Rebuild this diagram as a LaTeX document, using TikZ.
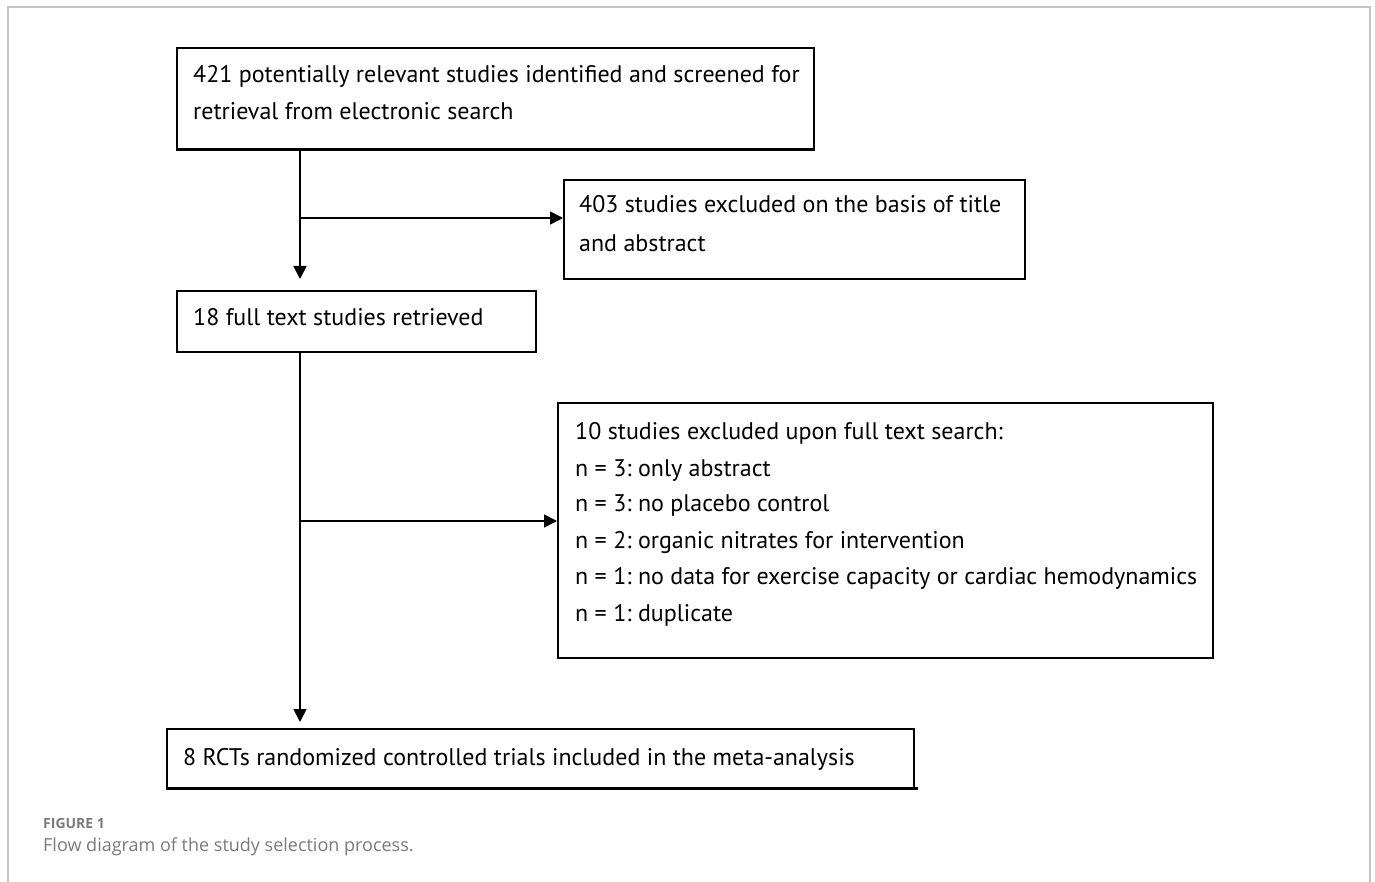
\documentclass[tikz,border=0pt]{standalone}
\usepackage{fontspec}
\setmainfont{PT Sans}
\newfontfamily\capfont{Open Sans}
\usetikzlibrary{arrows.meta}
\definecolor{framegray}{HTML}{C4C4C4}
\definecolor{capgray}{HTML}{7A7A7A}
\tikzset{
  box/.style={draw=black, line width=1.6pt, rectangle, anchor=north west, inner sep=0pt},
  boxtext/.style={anchor=base west, align=left, inner sep=0pt,
    font=\fontsize{24}{37}\selectfont},
  flow/.style={line width=1.6pt, -{Triangle[length=13pt,width=13pt]}},
  trunk/.style={line width=1.6pt},
}
\begin{document}
\frenchspacing
\begin{tikzpicture}[x=1pt,y=-1pt]
\useasboundingbox (0,0) rectangle (1375,882);
\draw[framegray, line width=2pt] (8,882) -- (8,7) -- (1370,7) -- (1370,882);

\node[box, minimum width=637pt, minimum height=101pt] (b1) at (176,47) {};
\node[box, minimum width=461pt, minimum height=99pt] (b2) at (563,179) {};
\node[box, minimum width=359pt, minimum height=61pt] (b3) at (176,290) {};
\node[box, minimum width=655pt, minimum height=255pt] (b4) at (557,402) {};
\node[box, minimum width=747pt, minimum height=59pt] (b5) at (166,728) {};

\node[boxtext] (t1a) at (193,83) {421 potentially relevant studies identified and screened for};
\node[boxtext] (t1b) at (193,120) {retrieval from electronic search};
\node[boxtext] (t2a) at (579,213) {403 studies excluded on the basis of title};
\node[boxtext] (t2b) at (579,252) {and abstract};
\node[boxtext] (t3) at (193,326) {18 full text studies retrieved};
\node[boxtext] (t4a) at (575,439) {10 studies excluded upon full text search:};
\node[boxtext] (t4b) at (575,476) {n = 3: only abstract};
\node[boxtext] (t4c) at (575,511) {n = 3: no placebo control};
\node[boxtext] (t4d) at (575,548) {n = 2: organic nitrates for intervention};
\node[boxtext] (t4e) at (575,584) {n = 1: no data for exercise capacity or cardiac hemodynamics};
\node[boxtext] (t4f) at (575,621) {n = 1: duplicate};
\node[boxtext] (t5) at (183,765) {8 RCTs randomized controlled trials included in the meta-analysis};

% thicker bottom edges
\draw[line width=3pt] (b1.south west) -- (b1.south east);
\draw[line width=3pt] (b5.south west) -- ([xshift=3pt]b5.south east);

\coordinate (j1) at (300,218);
\coordinate (j2) at (300,521);
\coordinate (e1) at (300,279);
\coordinate (e2) at (300,722);

\draw[trunk] (b1.south -| j1) -- (j1);
\draw[flow] (b1.south -| j1) -- (e1);
\draw[flow] (j1) -- (j1 -| b2.west);
\draw[flow] (b3.south -| j2) -- (e2);
\draw[flow] (j2) -- (j2 -| b4.west);

\node[anchor=base west, text=capgray, font=\capfont\bfseries\fontsize{14}{16}\selectfont, inner sep=0pt] (fig) at (43,828) {FIGURE 1};
\node[anchor=base west, text=capgray, font=\capfont\fontsize{18}{20}\selectfont, inner sep=0pt] (cap) at (43,851) {Flow diagram of the study selection process.};
\end{tikzpicture}
\end{document}
